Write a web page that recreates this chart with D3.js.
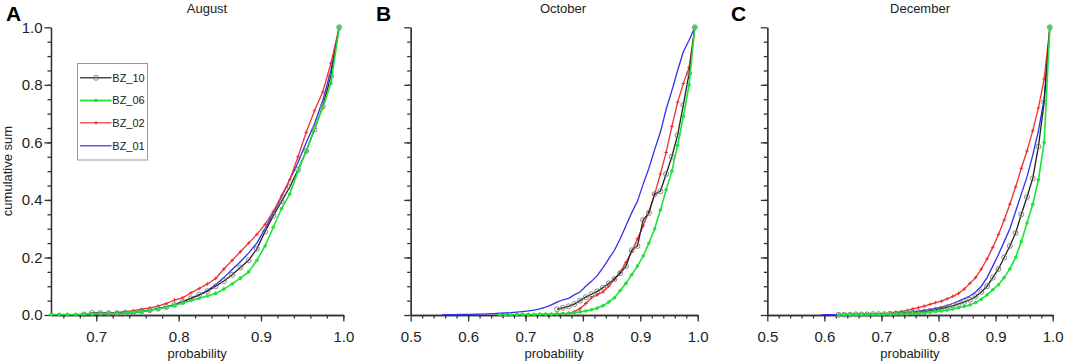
<!DOCTYPE html>
<html>
<head>
<meta charset="utf-8">
<script src="https://cdn.jsdelivr.net/npm/d3@7"></script>
<style>
  body { margin: 0; background: #fff; }
  svg { display: block; font-family: "Liberation Sans", Arial, sans-serif; }
  .axis path, .axis line { stroke: #333; stroke-width: 1.3; }
  .axis text { font-size: 15px; fill: #222; }
  .title { font-size: 13px; fill: #222; }
  .axis-title { font-size: 13px; fill: #222; }
  .panel-label { font-size: 21px; font-weight: bold; fill: #000; }
  .legend-text { font-size: 11px; fill: #222; }
</style>
</head>
<body>
<div id="chart"></div>
<script>
// series names / colours (legend order)
const seriesNames = ['BZ_10', 'BZ_06', 'BZ_02', 'BZ_01'];
const seriesColors = ['#222222', '#1fe23a', '#f03030', '#3030ee'];

// tick labels
const yTicks = [0, 0.2, 0.4, 0.6, 0.8, 1.0];
const xTicksA = [0.7, 0.8, 0.9, 1.0];
const xTicksBC = [0.5, 0.6, 0.7, 0.8, 0.9, 1.0];

// August: probability bin centres and cumulative sums
const probA = [0.645, 0.655, 0.665, 0.675, 0.685, 0.695, 0.705, 0.715, 0.725, 0.735, 0.745, 0.755,
  0.765, 0.775, 0.785, 0.795, 0.805, 0.815, 0.825, 0.835, 0.845, 0.855, 0.865, 0.875,
  0.885, 0.895, 0.905, 0.915, 0.925, 0.935, 0.945, 0.955, 0.965, 0.975, 0.985, 0.995];
const augBZ10 = [null, null, null, null, 0.002, 0.007, 0.007, 0.006, 0.006, 0.007, 0.009, 0.013,
  0.017, 0.022, 0.028, 0.035, 0.046, 0.058, 0.07, 0.083, 0.1, 0.118, 0.14, 0.165,
  0.19, 0.23, 0.29, 0.345, 0.395, 0.445, 0.505, 0.57, 0.645, 0.725, 0.83, 1.0];
const augBZ06 = [0.002, 0.002, 0.002, 0.002, 0.003, 0.004, 0.005, 0.006, 0.006, 0.007, 0.009, 0.012,
  0.016, 0.021, 0.027, 0.034, 0.042, 0.05, 0.058, 0.066, 0.075, 0.09, 0.108, 0.128,
  0.15, 0.19, 0.24, 0.305, 0.37, 0.42, 0.5, 0.57, 0.65, 0.72, 0.805, 1.0];
const augBZ02 = [null, null, null, null, null, 0.003, 0.006, 0.008, 0.009, 0.012, 0.015, 0.02,
  0.025, 0.031, 0.04, 0.052, 0.06, 0.077, 0.092, 0.108, 0.127, 0.16, 0.19, 0.22,
  0.25, 0.28, 0.315, 0.36, 0.415, 0.47, 0.55, 0.635, 0.71, 0.775, 0.875, 1.0];
const augBZ01 = [null, null, null, null, null, 0.002, 0.004, 0.005, 0.006, 0.007, 0.009, 0.012,
  0.016, 0.022, 0.028, 0.036, 0.047, 0.058, 0.07, 0.085, 0.105, 0.13, 0.158, 0.185,
  0.215, 0.25, 0.3, 0.355, 0.41, 0.47, 0.53, 0.6, 0.665, 0.745, 0.85, 1.0];

// October
const probB = [0.555, 0.565, 0.575, 0.585, 0.595, 0.605, 0.615, 0.625, 0.635, 0.645,
  0.655, 0.665, 0.675, 0.685, 0.695, 0.705, 0.715, 0.725, 0.735, 0.745,
  0.755, 0.765, 0.775, 0.785, 0.795, 0.805, 0.815, 0.825, 0.835, 0.845,
  0.855, 0.865, 0.875, 0.885, 0.895, 0.905, 0.915, 0.925, 0.935, 0.945,
  0.955, 0.965, 0.975, 0.985, 0.995];
const octBZ10 = [null, null, null, null, null, null, null, null, null, null,
  null, null, null, null, null, null, null, null, null, null,
  0.02, 0.025, 0.03, 0.038, 0.05, 0.062, 0.072, 0.082, 0.095, 0.11,
  0.125, 0.145, 0.17, 0.225, 0.24, 0.33, 0.355, 0.42, 0.43, 0.49,
  0.55, 0.625, 0.73, 0.84, 1.0];
const octBZ06 = [null, null, null, null, null, null, null, null, null, null,
  0.001, 0.001, 0.001, 0.002, 0.002, 0.002, 0.002, 0.003, 0.003, 0.003,
  0.004, 0.005, 0.006, 0.008, 0.011, 0.014, 0.018, 0.024, 0.032, 0.045,
  0.06, 0.085, 0.11, 0.14, 0.17, 0.205, 0.25, 0.3, 0.365, 0.435,
  0.5, 0.59, 0.69, 0.8, 1.0];
const octBZ02 = [null, null, null, null, null, null, null, null, null, null,
  null, null, null, null, null, null, null, null, null, 0.001,
  0.002, 0.003, 0.006, 0.012, 0.022, 0.04, 0.06, 0.07, 0.08, 0.1,
  0.125, 0.15, 0.182, 0.22, 0.265, 0.31, 0.36, 0.42, 0.49, 0.565,
  0.655, 0.74, 0.805, 0.86, 1.0];
const octBZ01 = [0.001, 0.001, 0.001, 0.002, 0.002, 0.002, 0.003, 0.003, 0.004, 0.005,
  0.006, 0.007, 0.008, 0.01, 0.012, 0.014, 0.017, 0.021, 0.027, 0.035,
  0.045, 0.053, 0.058, 0.07, 0.08, 0.1, 0.117, 0.137, 0.165, 0.195,
  0.225, 0.265, 0.31, 0.355, 0.395, 0.455, 0.51, 0.575, 0.635, 0.715,
  0.78, 0.85, 0.915, 0.955, 1.0];

// December
const probC = [0.595, 0.605, 0.615, 0.625, 0.635, 0.645, 0.655, 0.665, 0.675, 0.685,
  0.695, 0.705, 0.715, 0.725, 0.735, 0.745, 0.755, 0.765, 0.775, 0.785,
  0.795, 0.805, 0.815, 0.825, 0.835, 0.845, 0.855, 0.865, 0.875, 0.885,
  0.895, 0.905, 0.915, 0.925, 0.935, 0.945, 0.955, 0.965, 0.975, 0.985, 0.995];
const decBZ10 = [null, null, null, 0.001, 0.001, 0.001, 0.002, 0.002, 0.002, 0.003,
  0.003, 0.003, 0.004, 0.005, 0.006, 0.007, 0.008, 0.01, 0.012, 0.015,
  0.018, 0.022, 0.027, 0.032, 0.039, 0.046, 0.053, 0.064, 0.08, 0.1,
  0.13, 0.16, 0.2, 0.24, 0.285, 0.35, 0.41, 0.475, 0.585, 0.74, 1.0];
const decBZ06 = [null, null, null, 0.001, 0.001, 0.001, 0.001, 0.002, 0.002, 0.002,
  0.002, 0.003, 0.003, 0.004, 0.005, 0.005, 0.006, 0.007, 0.008, 0.01,
  0.012, 0.014, 0.017, 0.021, 0.025, 0.03, 0.035, 0.043, 0.055, 0.07,
  0.088, 0.105, 0.13, 0.16, 0.2, 0.255, 0.32, 0.385, 0.47, 0.6, 1.0];
const decBZ02 = [null, null, null, null, null, null, null, null, null, null,
  0.002, 0.004, 0.006, 0.009, 0.012, 0.016, 0.021, 0.026, 0.031, 0.037,
  0.043, 0.048, 0.056, 0.065, 0.075, 0.09, 0.11, 0.13, 0.16, 0.195,
  0.235, 0.28, 0.33, 0.385, 0.445, 0.51, 0.57, 0.64, 0.72, 0.82, 1.0];
const decBZ01 = [0.001, 0.001, 0.001, 0.001, 0.002, 0.002, 0.002, 0.002, 0.003, 0.003,
  0.003, 0.004, 0.005, 0.006, 0.007, 0.009, 0.011, 0.013, 0.016, 0.019,
  0.023, 0.027, 0.033, 0.04, 0.048, 0.057, 0.066, 0.08, 0.1, 0.13,
  0.17, 0.21, 0.255, 0.3, 0.36, 0.42, 0.48, 0.555, 0.64, 0.75, 1.0];

class CdfPanel {

  constructor(_config, _prob, _series) {
    this.config = {
      parent: _config.parent,
      left: _config.left,
      right: _config.right,
      top: _config.top || 27.3,
      bottom: _config.bottom || 315,
      xDomain: _config.xDomain,
      xTicks: _config.xTicks,
      xMinor: _config.xMinor,
      title: _config.title,
      titleX: _config.titleX,
      label: _config.label,
      labelX: _config.labelX,
      yLabels: _config.yLabels
    };
    this.prob = _prob;
    this.series = _series;
    this.initVis();
  }

  initVis() {
    let vis = this;
    const c = vis.config;

    vis.x = d3.scaleLinear().domain(c.xDomain).range([c.left, c.right]);
    vis.y = d3.scaleLinear().domain([0, 1]).range([c.bottom, c.top]);

    vis.g = c.parent.append('g');

    // minor ticks first, majors (with labels) on top
    vis.g.append('g')
        .attr('class', 'axis')
        .attr('transform', `translate(0,${c.bottom})`)
        .call(d3.axisBottom(vis.x).tickValues(c.xMinor).tickSize(3.5).tickSizeOuter(0).tickFormat(''));
    vis.g.append('g')
        .attr('class', 'axis')
        .attr('transform', `translate(0,${c.bottom})`)
        .call(d3.axisBottom(vis.x).tickValues(c.xTicks).tickSize(6.5).tickSizeOuter(0)
          .tickPadding(10).tickFormat(d3.format('.1f')));

    vis.g.append('g')
        .attr('class', 'axis')
        .attr('transform', `translate(${c.left},0)`)
        .call(d3.axisLeft(vis.y).tickValues(d3.range(0.05, 1, 0.05)).tickSize(3.5).tickSizeOuter(0).tickFormat(''));
    vis.g.append('g')
        .attr('class', 'axis')
        .attr('transform', `translate(${c.left},0)`)
        .call(d3.axisLeft(vis.y).tickValues(yTicks).tickSize(6.5).tickSizeOuter(0)
          .tickPadding(2).tickFormat(c.yLabels ? d3.format('.1f') : ''));

    vis.g.append('text')
        .attr('class', 'title')
        .attr('x', c.titleX)
        .attr('y', 13)
        .attr('text-anchor', 'middle')
        .text(c.title);

    vis.g.append('text')
        .attr('class', 'panel-label')
        .attr('x', c.labelX)
        .attr('y', 21)
        .text(c.label);

    vis.g.append('text')
        .attr('class', 'axis-title')
        .attr('x', (c.left + c.right) / 2)
        .attr('y', 358)
        .attr('text-anchor', 'middle')
        .text('probability');

    vis.renderVis();
  }

  renderVis() {
    let vis = this;

    const line = d3.line()
        .defined(d => d[1] != null)
        .x(d => vis.x(d[0]))
        .y(d => vis.y(d[1]));

    // drawing order: BZ_01, BZ_02, BZ_10, BZ_06
    [3, 2, 0, 1].forEach(i => {
      const pts = vis.prob.map((p, j) => [p, vis.series[i][j]]);
      const valid = pts.filter(d => d[1] != null);
      const grp = vis.g.append('g');
      grp.append('path')
          .attr('d', line(pts))
          .attr('fill', 'none')
          .attr('stroke', seriesColors[i])
          .attr('stroke-width', i === 1 ? 1.6 : 1.3);
      drawMarkers(grp, i, valid.map(d => [vis.x(d[0]), vis.y(d[1])]));
    });
  }
}

function drawMarkers(grp, i, xy) {
  if (i === 0) {
    grp.selectAll('circle').data(xy).join('circle')
        .attr('cx', d => d[0]).attr('cy', d => d[1]).attr('r', 2.5)
        .attr('fill', 'none').attr('stroke', '#7a7a7a').attr('stroke-width', 0.9);
  } else if (i === 1) {
    grp.selectAll('circle').data(xy).join('circle')
        .attr('cx', d => d[0]).attr('cy', d => d[1]).attr('r', 1.8)
        .attr('fill', seriesColors[1]);
  } else if (i === 2) {
    grp.selectAll('path.mk').data(xy).join('path')
        .attr('class', 'mk')
        .attr('d', d => `M${d[0] - 1.8},${d[1]}h3.6M${d[0]},${d[1] - 1.8}v3.6`)
        .attr('stroke', seriesColors[2]).attr('stroke-width', 1);
  }
}

const svg = d3.select('#chart').append('svg')
    .attr('width', 1065)
    .attr('height', 364);

new CdfPanel({
  parent: svg, left: 51, right: 343.3, xDomain: [0.645, 1.0],
  xTicks: xTicksA, xMinor: d3.range(0.66, 1.001, 0.02),
  title: 'August', titleX: 207, label: 'A', labelX: 6, yLabels: true
}, probA, [augBZ10, augBZ06, augBZ02, augBZ01]);

new CdfPanel({
  parent: svg, left: 410.7, right: 697.7, xDomain: [0.5, 1.0],
  xTicks: xTicksBC, xMinor: d3.range(0.52, 1.001, 0.02),
  title: 'October', titleX: 563, label: 'B', labelX: 376, yLabels: false
}, probB, [octBZ10, octBZ06, octBZ02, octBZ01]);

new CdfPanel({
  parent: svg, left: 767.3, right: 1052.7, xDomain: [0.5, 1.0],
  xTicks: xTicksBC, xMinor: d3.range(0.52, 1.001, 0.02),
  title: 'December', titleX: 920, label: 'C', labelX: 731, yLabels: false
}, probC, [decBZ10, decBZ06, decBZ02, decBZ01]);

// y axis title (panel A only)
svg.append('text')
    .attr('class', 'axis-title')
    .attr('transform', 'translate(12,171) rotate(-90)')
    .attr('text-anchor', 'middle')
    .text('cumulative sum');

// legend (panel A)
const legend = svg.append('g');
legend.append('rect')
    .attr('x', 77.5).attr('y', 63.5).attr('width', 70).attr('height', 96.5)
    .attr('fill', '#fff').attr('stroke', '#999').attr('stroke-width', 1);
const legendY = [77.8, 100.5, 122.8, 145.8];
seriesNames.forEach((name, i) => {
  const row = legend.append('g');
  row.append('line')
      .attr('x1', 80).attr('x2', 111.5)
      .attr('y1', legendY[i]).attr('y2', legendY[i])
      .attr('stroke', seriesColors[i]).attr('stroke-width', i === 1 ? 1.8 : 1.2);
  drawMarkers(row, i, [[96, legendY[i]]]);
  row.append('text')
      .attr('class', 'legend-text')
      .attr('x', 112.3)
      .attr('y', legendY[i])
      .attr('dy', '0.36em')
      .text(name);
});
</script>
</body>
</html>
